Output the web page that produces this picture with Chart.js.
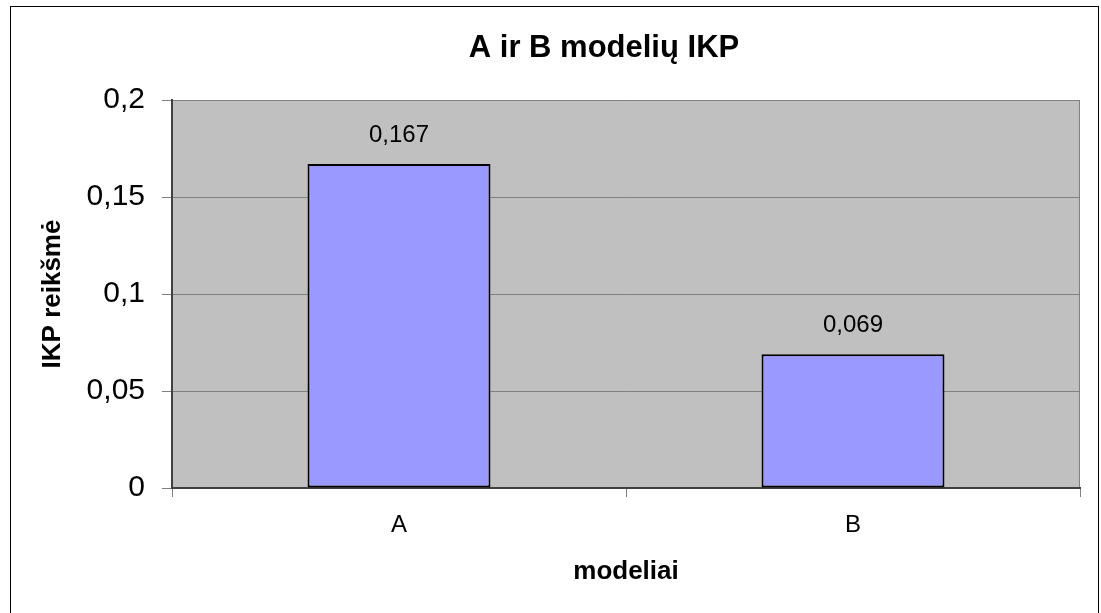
<!DOCTYPE html>
<html lang="lt">
<head>
<meta charset="utf-8">
<title>A ir B modelių IKP</title>
<script src="https://cdn.jsdelivr.net/npm/chart.js@4"></script>
<style>
    body { margin: 0; background: #fff; }
    canvas { display: block; }
</style>
</head>
<body>
<canvas id="ikpChart" width="1101" height="613"></canvas>
<script>
// Duomenys
const chartTitle = 'A ir B modelių IKP';
const categories = ['A', 'B'];
const ikpValues = [0.167, 0.069];
const yTickValues = [0, 0.05, 0.1, 0.15, 0.2];
const yTickLabels = ['0', '0,05', '0,1', '0,15', '0,2'];

const FONT = '"Liberation Sans", Arial, sans-serif';

// Skaičius su kableliu, kaip originale
function lt(v) {
    return String(v).replace('.', ',');
}

// Fonas, rėmelis, pilka braižymo sritis, pavadinimas ir reikšmės virš stulpelių
const framePlugin = {
    id: 'frame',
    beforeDraw(chart) {
        const c = chart.ctx;
        const a = chart.chartArea;
        c.save();
        c.fillStyle = '#ffffff';
        c.fillRect(0, 0, chart.width, chart.height);
        c.strokeStyle = '#000000';
        c.lineWidth = 1;
        c.strokeRect(10.5, 6.5, 1088, 700);
        c.fillStyle = '#c0c0c0';
        c.fillRect(a.left, a.top, a.right - a.left, a.bottom - a.top);
        c.strokeStyle = '#808080';
        c.beginPath();
        c.moveTo(a.right - 0.5, a.top);
        c.lineTo(a.right - 0.5, a.bottom);
        c.stroke();
        c.restore();
    },
    afterDatasetsDraw(chart) {
        const c = chart.ctx;
        const meta = chart.getDatasetMeta(0);
        c.save();
        c.fillStyle = '#000000';
        c.font = '24px ' + FONT;
        c.textAlign = 'center';
        c.textBaseline = 'middle';
        meta.data.forEach((bar, i) => {
            c.fillText(lt(ikpValues[i]), bar.x, bar.y - 29);
        });
        c.restore();
    },
    afterDraw(chart) {
        const c = chart.ctx;
        c.save();
        c.fillStyle = '#000000';
        c.font = 'bold 31px ' + FONT;
        c.textAlign = 'center';
        c.textBaseline = 'middle';
        c.fillText(chartTitle, 604, 48);
        c.restore();
    }
};

new Chart(document.getElementById('ikpChart'), {
    type: 'bar',
    data: {
        labels: categories,
        datasets: [{
            label: 'IKP reikšmė',
            data: ikpValues,
            backgroundColor: '#9999ff',
            borderColor: '#000000',
            borderWidth: 2,
            borderSkipped: false,
            categoryPercentage: 1,
            barPercentage: 0.403
        }]
    },
    options: {
        responsive: false,
        animation: false,
        layout: { padding: { top: 100, right: 21, bottom: 0, left: 0 } },
        plugins: {
            legend: { display: false },
            tooltip: { enabled: false }
        },
        scales: {
            x: {
                offset: true,
                grid: {
                    offset: true,
                    drawOnChartArea: false,
                    drawTicks: true,
                    tickLength: 9,
                    color: '#808080'
                },
                border: { color: '#404040', width: 2 },
                ticks: {
                    color: '#000000',
                    padding: 14,
                    font: { family: FONT, size: 24 }
                },
                title: {
                    display: true,
                    text: 'modeliai',
                    color: '#000000',
                    font: { family: FONT, size: 26, weight: 'bold' },
                    padding: { top: 0, bottom: 26 }
                },
                afterFit(scale) { scale.height = 125; }
            },
            y: {
                min: 0,
                max: 0.2,
                afterBuildTicks(scale) {
                    scale.ticks = yTickValues.map(v => ({ value: v }));
                },
                grid: {
                    color: '#808080',
                    tickLength: 10
                },
                border: { color: '#404040', width: 2 },
                ticks: {
                    color: '#000000',
                    padding: 17,
                    font: { family: FONT, size: 30 },
                    callback: function(value) {
                        const i = yTickValues.findIndex(t => Math.abs(t - value) < 1e-9);
                        return i >= 0 ? yTickLabels[i] : '';
                    }
                },
                title: {
                    display: true,
                    text: 'IKP reikšmė',
                    color: '#000000',
                    font: { family: FONT, size: 26, weight: 'bold' },
                    padding: { top: 37, bottom: 0 }
                },
                afterFit(scale) { scale.width = 172; }
            }
        }
    },
    plugins: [framePlugin]
});
</script>
</body>
</html>
